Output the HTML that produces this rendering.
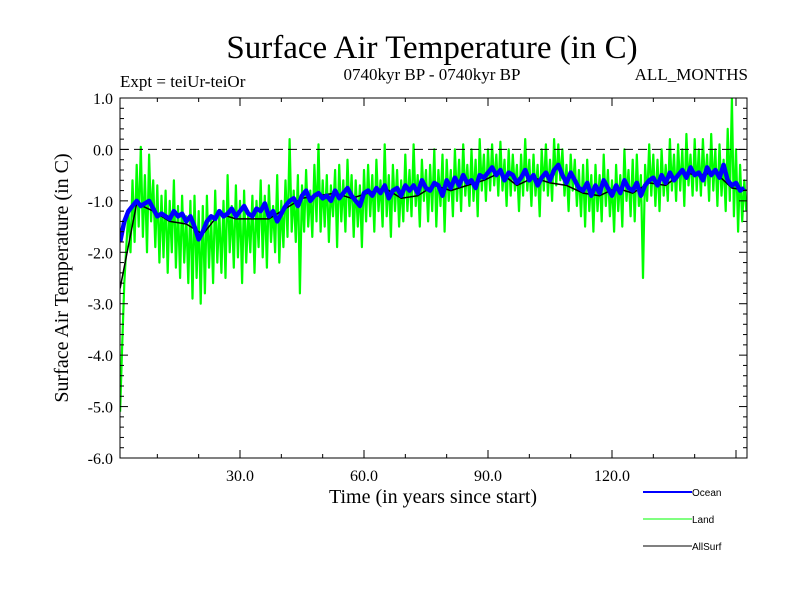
<!DOCTYPE html>
<html><head><meta charset="utf-8"><style>
body{margin:0;background:#fff}
svg text{font-family:"Liberation Serif",serif;fill:#000}
</style></head><body>
<svg id="chart" width="800" height="600" viewBox="0 0 800 600" xmlns="http://www.w3.org/2000/svg">
<text x="432" y="58" font-size="33" text-anchor="middle">Surface Air Temperature (in C)</text>
<text x="120" y="87" font-size="17">Expt = teiUr-teiOr</text>
<text x="432" y="80" font-size="17" text-anchor="middle">0740kyr BP - 0740kyr BP</text>
<text x="748" y="80" font-size="17" text-anchor="end">ALL_MONTHS</text>
<text transform="translate(68,278) rotate(-90)" font-size="20" text-anchor="middle">Surface Air Temperature (in C)</text>
<text x="433" y="503" font-size="20" text-anchor="middle">Time (in years since start)</text>
<defs><clipPath id="pc"><rect x="120" y="98" width="627" height="360"/></clipPath></defs>
<g id="series" clip-path="url(#pc)"></g>
<line x1="120" x2="747" y1="149.4" y2="149.4" stroke="#000" stroke-dasharray="9,5" stroke-width="1"/>
<g id="axes"></g>
<g>
<line x1="643" x2="692" y1="492" y2="492" stroke="#0000ff" stroke-width="2"/>
<text x="692" y="496" font-size="10" style="font-family:'Liberation Sans',sans-serif">Ocean</text>
<line x1="643" x2="692" y1="519" y2="519" stroke="#00ff00" stroke-width="1"/>
<text x="692" y="523" font-size="10" style="font-family:'Liberation Sans',sans-serif">Land</text>
<line x1="643" x2="692" y1="546" y2="546" stroke="#000" stroke-width="1"/>
<text x="692" y="550" font-size="10" style="font-family:'Liberation Sans',sans-serif">AllSurf</text>
</g>
</svg>
<script>
const xTicks=[30,60,90,120];
const xTickLabels=["30.0","60.0","90.0","120.0"];
const yTicks=[1,0,-1,-2,-3,-4,-5,-6];
const yTickLabels=["1.0","0.0","-1.0","-2.0","-3.0","-4.0","-5.0","-6.0"];
const oceanStart=1, oceanStep=1;
const ocean=[-1.8,-1.4,-1.2,-1.1,-1.0,-1.1,-1.05,-1.0,-1.15,-1.3,
-1.25,-1.3,-1.35,-1.2,-1.3,-1.25,-1.4,-1.3,-1.5,-1.75,
-1.6,-1.4,-1.3,-1.35,-1.2,-1.3,-1.25,-1.15,-1.3,-1.2,
-1.1,-1.25,-1.3,-1.15,-1.2,-1.05,-1.3,-1.2,-1.4,-1.25,
-1.1,-1.0,-0.95,-1.1,-0.9,-0.8,-1.0,-0.9,-0.85,-0.95,
-0.9,-1.0,-0.8,-0.95,-0.85,-0.75,-0.9,-1.0,-1.1,-0.85,
-0.8,-0.9,-0.75,-0.85,-0.7,-0.95,-0.8,-0.75,-0.9,-0.7,
-0.8,-0.7,-0.85,-0.6,-0.75,-0.8,-0.65,-0.7,-0.9,-0.6,
-0.75,-0.55,-0.7,-0.5,-0.65,-0.6,-0.75,-0.5,-0.55,-0.45,
-0.35,-0.5,-0.4,-0.6,-0.45,-0.5,-0.65,-0.55,-0.4,-0.6,
-0.5,-0.7,-0.55,-0.45,-0.6,-0.4,-0.3,-0.5,-0.65,-0.45,
-0.6,-0.75,-0.8,-0.65,-0.9,-0.7,-0.85,-0.6,-0.75,-0.9,
-0.7,-0.85,-0.6,-0.75,-0.8,-0.65,-0.9,-0.7,-0.6,-0.55,
-0.7,-0.5,-0.65,-0.45,-0.6,-0.5,-0.4,-0.55,-0.35,-0.5,
-0.45,-0.6,-0.35,-0.5,-0.4,-0.55,-0.3,-0.6,-0.7,-0.65,
-0.8,-0.75];
const landStart=1, landStep=0.5;
const land=[-5.1,-3.8,-2.6,-1.9,-1.2,-2.0,-0.6,-1.8,-0.3,-1.5,
0.05,-1.7,-0.5,-2.0,-0.1,-1.4,-0.6,-1.9,-0.7,-2.2,
-0.9,-2.1,-0.8,-2.4,-1.0,-2.0,-0.6,-2.3,-1.1,-2.5,
-0.9,-2.2,-1.3,-2.6,-1.0,-2.9,-0.9,-2.5,-1.2,-3.0,
-1.1,-2.8,-0.9,-2.3,-1.3,-2.6,-0.8,-2.2,-1.2,-2.4,
-1.0,-2.5,-0.5,-2.0,-1.1,-2.3,-0.7,-2.1,-1.0,-2.6,
-0.8,-2.2,-1.2,-2.0,-0.9,-2.4,-1.0,-1.9,-0.6,-2.1,
-0.9,-2.3,-0.7,-1.8,-1.1,-2.0,-0.5,-2.2,-1.0,-1.9,
-0.6,-1.7,0.2,-1.6,-0.8,-1.8,-0.5,-2.8,-0.7,-1.6,
-0.4,-1.5,-0.8,-1.7,-0.3,-1.4,0.1,-1.6,-0.6,-1.5,
-0.5,-1.8,-0.7,-1.3,-0.4,-1.9,-0.3,-1.4,-0.6,-1.6,
-0.2,-1.3,-0.5,-1.7,-0.6,-1.5,-0.7,-1.9,-0.4,-1.4,
-0.3,-1.3,-0.5,-1.6,-0.2,-1.2,-0.6,-1.5,0.1,-1.3,
-0.5,-1.7,-0.3,-1.2,-0.4,-1.5,-0.6,-1.4,-0.1,-1.2,
-0.4,-1.3,0.1,-1.1,-0.5,-1.5,-0.2,-1.0,-0.4,-1.4,
-0.3,-1.2,0.0,-1.5,-0.4,-1.1,-0.1,-1.6,-0.2,-1.0,
-0.4,-1.3,0.0,-1.0,-0.2,-1.2,0.1,-0.9,-0.3,-1.1,
0.0,-1.0,-0.2,-1.3,0.2,-0.8,-0.1,-1.0,0.0,-0.8,
0.1,-0.7,-0.1,-0.9,0.15,-0.8,-0.2,-1.1,0.0,-0.9,
-0.1,-0.8,-0.3,-1.2,-0.1,-0.9,0.2,-0.8,-0.2,-1.1,
-0.1,-0.9,-0.3,-1.3,0.0,-0.8,0.1,-0.9,-0.2,-1.0,
0.2,-0.7,0.1,-0.6,0.0,-0.9,-0.3,-1.2,-0.1,-0.8,
-0.2,-1.1,-0.4,-1.3,-0.3,-1.5,-0.2,-1.2,-0.5,-1.6,
-0.3,-1.2,-0.5,-1.4,-0.1,-1.1,-0.4,-1.3,-0.6,-1.6,
-0.3,-1.2,-0.5,-1.5,0.0,-1.0,-0.4,-1.3,-0.2,-1.4,
-0.1,-1.1,-0.5,-2.5,-0.3,-1.0,0.1,-0.9,-0.1,-1.1,
-0.2,-1.2,0.0,-0.9,-0.3,-1.0,0.2,-0.8,-0.1,-1.0,
0.1,-0.8,0.0,-1.1,0.3,-0.7,-0.1,-0.9,0.2,-0.8,
0.0,-0.9,0.2,-0.7,-0.1,-1.0,0.3,-0.8,0.0,-1.1,
0.1,-0.9,-0.2,-1.2,0.4,-1.0,1.0,-1.3,0.0,-1.6,
-0.3,-1.4,-0.6,-1.2];
const allStart=1, allStep=4;
const allSurf=[-2.7,-1.05,-1.2,-1.4,-1.45,-1.65,-1.25,-1.35,-1.35,-1.35,-1.15,-0.95,-0.9,-0.85,-0.95,-0.85,-0.75,-0.95,-0.9,-0.7,-0.8,-0.7,-0.6,-0.45,-0.7,-0.55,-0.65,-0.7,-0.85,-0.9,-0.75,-0.85,-0.65,-0.7,-0.45,-0.5,-0.45,-0.75,-0.8];

const NS="http://www.w3.org/2000/svg";
const L=120,R=747,T=98,B=458;
function sx(v){return 116+(v)*(124/30);}
function sy(v){return T+(1-v)*(B-T)/7;}
const sg=document.getElementById('series');
function drawSeries(arr,start,step,color,w,name){
  const p=document.createElementNS(NS,'polyline');
  p.setAttribute('points',arr.map((v,i)=>sx(start+i*step).toFixed(1)+','+sy(v).toFixed(1)).join(' '));
  p.setAttribute('fill','none');p.setAttribute('stroke',color);p.setAttribute('stroke-width',w);
  p.setAttribute('stroke-linejoin','round');
  
  
  sg.appendChild(p);
}
drawSeries(land,landStart,landStep,'#00ff00',2.2,'land-line');
drawSeries(allSurf,allStart,allStep,'#000000',1.5,'allsurf-line');
drawSeries(ocean,oceanStart,oceanStep,'#0000ff',4.5,'ocean-line');

const ax=document.getElementById('axes');
function ln(x1,y1,x2,y2,w){const l=document.createElementNS(NS,'line');l.setAttribute('x1',x1);l.setAttribute('y1',y1);l.setAttribute('x2',x2);l.setAttribute('y2',y2);l.setAttribute('stroke','#000');l.setAttribute('stroke-width',w||1);ax.appendChild(l);return l;}
function tx(x,y,s,anchor,name){const t=document.createElementNS(NS,'text');t.setAttribute('x',x);t.setAttribute('y',y);t.setAttribute('font-size','16');t.setAttribute('text-anchor',anchor);t.textContent=s;


ax.appendChild(t);}
const fr=document.createElementNS(NS,'rect');
fr.setAttribute('x',L);fr.setAttribute('y',T);fr.setAttribute('width',R-L);fr.setAttribute('height',B-T);fr.setAttribute('fill','none');fr.setAttribute('stroke','#000');


ax.appendChild(fr);
for(let v=-6;v<=1.001;v+=0.2){const y=sy(v);const maj=Math.abs(v-Math.round(v))<1e-6;const len=maj?8:4;ln(L,y,L+len,y);ln(R,y,R-len,y);}
yTicks.forEach((v,i)=>tx(113,sy(v)+6,yTickLabels[i],'end','y-tick-label'));
for(let v=10;v<=150;v+=10){const x=sx(v);const maj=v%30===0;const len=maj?8:4;ln(x,B,x,B-len);ln(x,T,x,T+len);}
xTicks.forEach((v,i)=>tx(sx(v),481,xTickLabels[i],'middle','x-tick-label'));
</script>
</body></html>
